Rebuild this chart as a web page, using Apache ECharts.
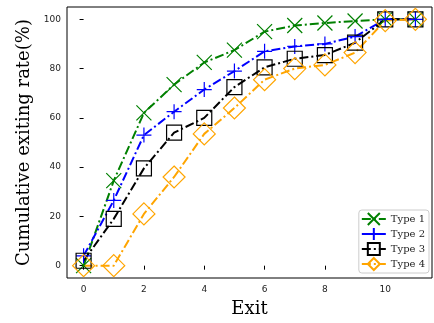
<!DOCTYPE html>
<html>
<head>
<meta charset="utf-8">
<script src="https://cdn.jsdelivr.net/npm/echarts@6/dist/echarts.min.js"></script>
<style>
html,body{margin:0;padding:0;background:#fff;}
#chart{width:434px;height:323px;}
</style>
</head>
<body>
<div id="chart"></div>
<script>
var exits = [0, 1, 2, 3, 4, 5, 6, 7, 8, 9, 10, 11];
var type1 = [0, 34.5, 62, 73.5, 82.5, 87.5, 95, 97.5, 98.5, 99.3, 100, 100];
var type2 = [4, 26.5, 53, 62.5, 71.5, 79, 87, 89, 90, 93, 100, 100];
var type3 = [2, 19, 39.5, 54, 60, 72.5, 80.5, 84, 85.5, 90.5, 100, 100];
var type4 = [0, 0, 21, 36, 53.5, 64, 75.5, 80, 81.5, 86.5, 99.5, 100];
var xTicks = [0, 2, 4, 6, 8, 10];
var yTicks = [0, 20, 40, 60, 80, 100];
var names = ['Type 1', 'Type 2', 'Type 3', 'Type 4'];

var dom = document.getElementById('chart');
var myChart = echarts.init(dom);

function pairs(arr) {
	var out = [];
	for (var i = 0; i < arr.length; i++) out.push([exits[i], arr[i]]);
	return out;
}

var dashdot = [9, 3, 2, 3];
var symX = 'path://M0,0L10,10M10,0L0,10';
var symPlus = 'path://M5,0L5,10M0,5L10,5';
var symDia = 'path://M5,0L10,5L5,10L0,5Z';

function mkSeries(name, data, color, symbol, size) {
	return {
		name: name,
		type: 'line',
		data: pairs(data),
		symbol: symbol,
		symbolSize: size,
		showAllSymbol: true,
		lineStyle: { color: color, width: 2, type: dashdot },
		itemStyle: { color: 'rgba(0,0,0,0)', borderColor: color, borderWidth: 1.2 },
		emphasis: { disabled: true }
	};
}

var option = {
	animation: false,
	grid: { left: 67, top: 7, right: 2, bottom: 44, show: true, borderColor: '#000', borderWidth: 1 },
	legend: {
		right: 5,
		bottom: 50,
		orient: 'vertical',
		itemWidth: 24,
		itemHeight: 15,
		itemGap: 1,
		padding: [2, 4, 2, 2],
		borderColor: '#ccc',
		borderWidth: 1,
		borderRadius: 3,
		backgroundColor: '#fff',
		textStyle: { fontFamily: 'DejaVu Serif', fontSize: 10, color: '#222' },
		data: names
	},
	xAxis: {
		type: 'value',
		min: -0.55,
		max: 11.55,
		name: 'Exit',
		nameLocation: 'middle',
		nameGap: 22,
		nameTextStyle: { fontFamily: 'DejaVu Serif', fontSize: 18, color: '#000' },
		splitLine: { show: false },
		axisLine: { show: false },
		axisTick: { show: true, length: 4, lineStyle: { color: '#000' }, customValues: xTicks },
		axisLabel: { fontFamily: 'DejaVu Sans', fontSize: 9, color: '#222', margin: 7, customValues: xTicks }
	},
	yAxis: {
		type: 'value',
		min: -5,
		max: 105,
		name: 'Cumulative exiting rate(%)',
		nameLocation: 'middle',
		nameGap: 34,
		nameTextStyle: { fontFamily: 'DejaVu Serif', fontSize: 18, color: '#000' },
		splitLine: { show: false },
		axisLine: { show: false },
		axisTick: { show: true, length: 4, lineStyle: { color: '#000' }, customValues: yTicks },
		axisLabel: { fontFamily: 'DejaVu Sans', fontSize: 9, color: '#222', margin: 6, customValues: yTicks }
	},
	series: [
		mkSeries(names[0], type1, '#008000', symX, 15),
		mkSeries(names[1], type2, '#0000ff', symPlus, 15),
		mkSeries(names[2], type3, '#000000', 'rect', 15),
		mkSeries(names[3], type4, '#ffa500', symDia, 22)
	]
};

myChart.setOption(option, true);
</script>
</body>
</html>
